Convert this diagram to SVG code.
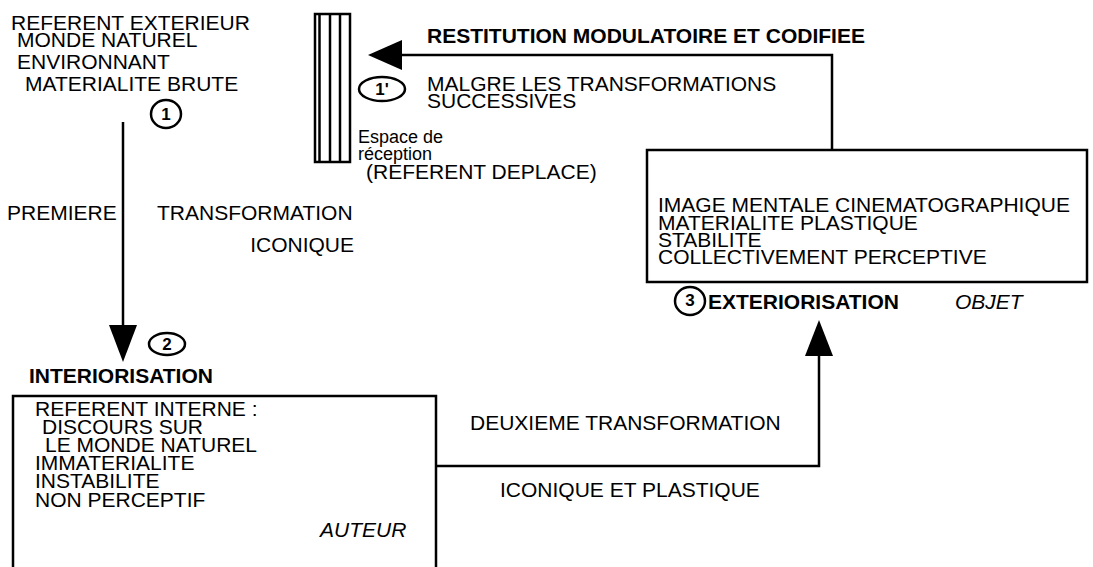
<svg xmlns="http://www.w3.org/2000/svg" width="1093" height="567" viewBox="0 0 1093 567">
<style>
text{font-family:"Liberation Sans",Arial,Helvetica,sans-serif;font-size:21px;fill:#000}
.b{font-weight:bold}
.i{font-style:italic}
.s{font-size:18px}
.n{font-size:17px;font-weight:bold;text-anchor:middle}
.ln{fill:none;stroke:#000;stroke-width:2.5}
.c{fill:none;stroke:#000;stroke-width:2.5}
</style>
<rect width="1093" height="567" fill="#fff"/>
<g id="referent-exterieur">
<text x="11" y="30">REFERENT EXTERIEUR</text>
<text x="17" y="47">MONDE NATUREL</text>
<text x="17" y="69">ENVIRONNANT</text>
<text x="25" y="91">MATERIALITE BRUTE</text>
<ellipse class="c" cx="166" cy="114" rx="15" ry="14"/>
<text class="n" x="166" y="120">1</text>
</g>
<g id="espace-reception">
<rect class="ln" x="315" y="14" width="35" height="148"/>
<line class="ln" x1="319.5" y1="14" x2="319.5" y2="162" stroke-width="1.5"/>
<line class="ln" x1="330" y1="14" x2="330" y2="162" stroke-width="2"/>
<line class="ln" x1="340" y1="14" x2="340" y2="162" stroke-width="2"/>
<text class="s" x="358" y="143">Espace de</text>
<text class="s" x="358" y="160">réception</text>
<text x="366" y="179">(REFERENT DEPLACE)</text>
</g>
<g id="restitution">
<text class="b" x="427" y="43">RESTITUTION MODULATOIRE ET CODIFIEE</text>
<ellipse class="c" cx="382" cy="89" rx="23" ry="12"/>
<text class="n" x="382" y="95">1'</text>
<text x="427" y="91">MALGRE LES TRANSFORMATIONS</text>
<text x="427" y="108">SUCCESSIVES</text>
</g>
<g id="premiere-transformation">
<text x="7" y="220">PREMIERE</text>
<text x="157" y="220">TRANSFORMATION</text>
<text x="354" y="252" text-anchor="end">ICONIQUE</text>
</g>
<g id="interiorisation">
<ellipse class="c" cx="167" cy="344" rx="18" ry="11"/>
<text class="n" x="167" y="350">2</text>
<text class="b" x="29" y="383">INTERIORISATION</text>
<path class="ln" d="M13,567 V396 H436 V567"/>
<text x="35" y="416">REFERENT INTERNE :</text>
<text x="42" y="434">DISCOURS SUR</text>
<text x="45" y="452">LE MONDE NATUREL</text>
<text x="35" y="470">IMMATERIALITE</text>
<text x="35" y="488">INSTABILITE</text>
<text x="35" y="507">NON PERCEPTIF</text>
<text class="i" x="320" y="537">AUTEUR</text>
</g>
<g id="exteriorisation">
<rect class="ln" x="647" y="150" width="440" height="132"/>
<text x="658" y="212">IMAGE MENTALE CINEMATOGRAPHIQUE</text>
<text x="658" y="230">MATERIALITE PLASTIQUE</text>
<text x="658" y="247">STABILITE</text>
<text x="658" y="264">COLLECTIVEMENT PERCEPTIVE</text>
<ellipse class="c" cx="690" cy="301" rx="15" ry="14"/>
<text class="n" x="690" y="306" font-size="15">3</text>
<text class="b" x="708" y="309">EXTERIORISATION</text>
<text class="i" x="955" y="309">OBJET</text>
</g>
<g id="deuxieme-transformation">
<text x="470" y="430">DEUXIEME TRANSFORMATION</text>
<text x="500" y="497">ICONIQUE ET PLASTIQUE</text>
</g>
<g id="connectors">
<line class="ln" x1="123" y1="122" x2="123" y2="330" stroke-width="3"/>
<polygon points="109,325 137,325 123,362" fill="#000"/>
<path class="ln" d="M436,466 H819 V352" stroke-width="3"/>
<polygon points="805,356 833,356 819,320" fill="#000"/>
<path class="ln" d="M832,150 V55 H398" stroke-width="3"/>
<polygon points="368,55 402,40 402,70" fill="#000"/>
</g>
</svg>
